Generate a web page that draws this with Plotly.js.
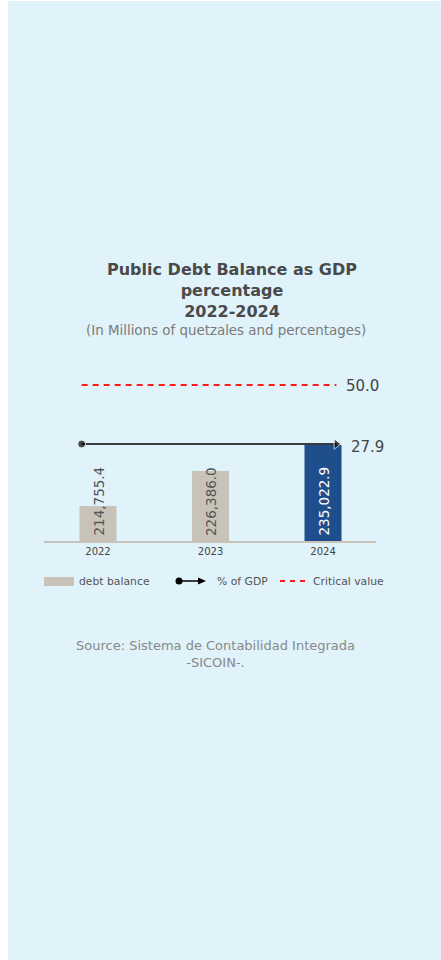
<!DOCTYPE html>
<html>
<head>
<meta charset="utf-8">
<script src="https://cdn.plot.ly/plotly-3.0.1.min.js"></script>
<style>
  html, body { margin: 0; padding: 0; background: #ffffff; width: 441px; height: 960px; overflow: hidden; }
  #chart { position: absolute; left: 8px; top: 1px; width: 433px; height: 959px; }
</style>
</head>
<body>
<div id="chart"></div>
<script>
// ---- Data ----
const years = ['2022', '2023', '2024'];
const debtBalance = [214755.4, 226386.0, 235022.9];
const gdpPct = [27.9, 27.9, 27.9];
const criticalValue = [50.0, 50.0, 50.0];

// ---- Styling / layout helpers ----
const FONT = 'DejaVu Sans, Verdana, sans-serif';
const BG = '#e1f3fa';
const BEIGE = '#c8c3b8';
const BLUE = '#1f4e8c';

const W = 433, H = 959;
const mL = 36, mR = 65, mT = 379, mB = 419;
const plotW = W - mL - mR, plotH = H - mT - mB;
const px = x => (x - mL) / plotW;
const py = y => (H - mB - y) / plotH;

const yMin = 203126, yMax = 256620;

const fmt = v => v.toLocaleString('en-US', {minimumFractionDigits: 1, maximumFractionDigits: 1});
const last = years.length - 1;

const traces = [
  {
    type: 'bar',
    name: 'debt balance',
    x: years,
    y: debtBalance,
    width: 0.329,
    marker: {color: years.map((_, i) => i === last ? BLUE : BEIGE)},
    hoverinfo: 'skip',
    showlegend: false
  },
  {
    type: 'scatter',
    name: 'Critical value',
    x: years,
    y: criticalValue,
    xaxis: 'x2',
    yaxis: 'y2',
    mode: 'lines',
    line: {color: '#ff1a1a', width: 2, dash: '6px,5px'},
    cliponaxis: false,
    showlegend: false
  },
  {
    type: 'scatter',
    name: '% of GDP',
    x: years,
    y: gdpPct,
    xaxis: 'x2',
    yaxis: 'y2',
    mode: 'lines+markers',
    line: {color: '#000', width: 1.5},
    marker: {color: '#000', symbol: ['circle', 'circle', 'triangle-right'], size: [8, 0, 9]},
    cliponaxis: false,
    showlegend: false
  }
];

// value labels inside the bars (vertical)
const annotations = debtBalance.map((v, i) => ({
  x: i, y: 0, xref: 'x', yref: 'y domain',
  text: fmt(v), textangle: -90,
  xanchor: 'center', yanchor: 'bottom', yshift: 3,
  showarrow: false,
  font: {family: FONT, size: 13.5, color: i === last ? '#ffffff' : '#555'}
}));

// end labels of the lines
annotations.push(
  {x: last, y: criticalValue[last], xref: 'x2', yref: 'y2', text: criticalValue[last].toFixed(1),
   showarrow: false, xanchor: 'left', yanchor: 'middle', xshift: 8, yshift: -1,
   font: {family: FONT, size: 15, color: '#444'}},
  {x: last, y: gdpPct[last], xref: 'x2', yref: 'y2', text: gdpPct[last].toFixed(1),
   showarrow: false, xanchor: 'left', yanchor: 'middle', xshift: 13, yshift: -3,
   font: {family: FONT, size: 15, color: '#444'}}
);

annotations.push(
  {xref: 'paper', yref: 'paper', x: px(223.5), y: py(289), text: '<b>Public Debt Balance as GDP<br>percentage<br>2022-2024</b>',
   showarrow: false, xanchor: 'center', yanchor: 'middle', align: 'center',
   font: {family: FONT, size: 16, color: '#4a4a4a'}},
  {xref: 'paper', yref: 'paper', x: px(218), y: py(329), text: '(In Millions of quetzales and percentages)',
   showarrow: false, xanchor: 'center', yanchor: 'middle', font: {family: FONT, size: 13.4, color: '#7a7a7a'}},
  {xref: 'paper', yref: 'paper', x: px(69), y: py(580.5), text: 'debt balance',
   showarrow: false, xanchor: 'left', yanchor: 'middle', font: {family: FONT, size: 10.8, color: '#555'}},
  {xref: 'paper', yref: 'paper', x: px(207), y: py(580.5), text: '% of GDP',
   showarrow: false, xanchor: 'left', yanchor: 'middle', font: {family: FONT, size: 10.8, color: '#555'}},
  {xref: 'paper', yref: 'paper', x: px(303), y: py(580.5), text: 'Critical value',
   showarrow: false, xanchor: 'left', yanchor: 'middle', font: {family: FONT, size: 10.8, color: '#555'}},
  {xref: 'paper', yref: 'paper', x: px(207), y: py(653), text: 'Source: Sistema de Contabilidad Integrada<br>-SICOIN-.',
   showarrow: false, xanchor: 'center', yanchor: 'middle', align: 'center', font: {family: FONT, size: 13, color: '#888'}}
);

const shapes = [
  {type: 'rect', xref: 'paper', yref: 'paper', x0: px(36), x1: px(66), y0: py(585), y1: py(576),
   fillcolor: BEIGE, line: {width: 0}},
  {type: 'line', xref: 'paper', yref: 'paper', x0: px(171), x1: px(192), y0: py(580), y1: py(580),
   line: {color: '#000', width: 1.5}},
  {type: 'circle', xref: 'paper', yref: 'paper', x0: px(167.5), x1: px(174.5), y0: py(583.5), y1: py(576.5),
   fillcolor: '#000', line: {width: 0}},
  {type: 'path', xref: 'paper', yref: 'paper',
   path: `M ${px(190)} ${py(576.5)} L ${px(198)} ${py(580)} L ${px(190)} ${py(583.5)} Z`,
   fillcolor: '#000', line: {width: 0}},
  {type: 'line', xref: 'paper', yref: 'paper', x0: px(272), x1: px(299), y0: py(580), y1: py(580),
   line: {color: '#ff1a1a', width: 2, dash: '5px,5px'}}
];

const layout = {
  width: W, height: H,
  paper_bgcolor: BG, plot_bgcolor: BG,
  margin: {l: mL, r: mR, t: mT, b: mB, pad: 0},
  font: {family: FONT, color: '#444'},
  showlegend: false,
  xaxis: {
    type: 'category', range: [-0.48, 2.471],
    showline: true, linecolor: BEIGE, linewidth: 2,
    ticks: '', showgrid: false, zeroline: false,
    tickfont: {family: FONT, size: 10, color: '#444'},
    fixedrange: true
  },
  xaxis2: {
    type: 'category', overlaying: 'x', range: [-0.2957, 2.2879 + 0.023],
    visible: false, showgrid: false, zeroline: false, fixedrange: true
  },
  yaxis: {
    range: [yMin, yMax], visible: false, showgrid: false, zeroline: false, fixedrange: true
  },
  yaxis2: {
    range: [-8.43, 51.87], overlaying: 'y', visible: false, showgrid: false, zeroline: false, fixedrange: true
  },
  annotations: annotations,
  shapes: shapes
};

Plotly.newPlot('chart', traces, layout, {displayModeBar: false, staticPlot: true});
</script>
</body>
</html>
